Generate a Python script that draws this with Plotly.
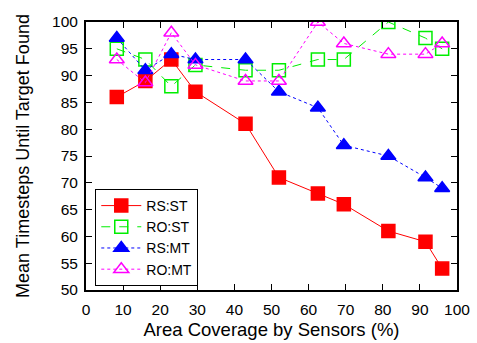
import plotly.graph_objects as go

coverage = [8.3, 16, 23, 29.5, 43, 52, 62.5, 69.5, 81.5, 91.5, 96]
rs_st = [86, 89, 93, 87, 81, 71, 68, 66, 61, 59, 54]
ro_st = [95, 93, 88, 92, 91, 91, 93, 93, 100, 97, 95]
rs_mt = [97, 91, 94, 93, 93, 87, 84, 77, 75, 71, 69]
ro_mt = [93, 88.7, 98, 92, 89, 89, 100, 96, 94, 94, 96]

x_ticks = list(range(0, 101, 10))
y_ticks = list(range(50, 101, 5))

series = [
    ("RS:ST", rs_st, "#ff0000", "solid", "square", "#ff0000", 13),
    ("RO:ST", ro_st, "#00ee00", "dash", "square-open", "#00ee00", 13),
    ("RS:MT", rs_mt, "#0000ff", "dot", "triangle-up", "#0000ff", 13),
    ("RO:MT", ro_mt, "#ff00ff", "dot", "triangle-up-open", "#ff00ff", 13),
]

FONT = "Liberation Sans, Arial, sans-serif"

fig = go.Figure()
for name, ys, col, dash, sym, mcol, msize in series:
    fig.add_trace(go.Scatter(
        x=coverage, y=ys, name=name, mode="lines+markers",
        line=dict(color=col, width=1, dash=dash),
        marker=dict(symbol=sym, size=msize, color=mcol,
                    line=dict(color=mcol, width=1.5)),
    ))

axis_common = dict(
    showgrid=False, zeroline=False, showline=True, linecolor="black",
    linewidth=2, mirror="ticks", ticks="inside", ticklen=6,
    tickcolor="black", tickwidth=1, automargin=False,
    tickfont=dict(family=FONT, size=15.5, color="black"),
)
fig.update_xaxes(range=[0, 100], tickvals=x_ticks, ticklabelstandoff=4,
                 title=dict(text="Area Coverage by Sensors (%)",
                            font=dict(family=FONT, size=18.5, color="black"),
                            standoff=6),
                 **axis_common)
fig.update_yaxes(range=[50, 100], tickvals=y_ticks, ticklabelstandoff=3,
                 title=dict(text="Mean Timesteps Until Target Found",
                            font=dict(family=FONT, size=18, color="black"),
                            standoff=18),
                 **axis_common)

fig.update_layout(
    width=477, height=343,
    margin=dict(l=86, r=20, t=22, b=53),
    plot_bgcolor="white", paper_bgcolor="white",
    legend=dict(x=0.025, y=0.015, xanchor="left", yanchor="bottom",
                bordercolor="black", borderwidth=1, bgcolor="white",
                font=dict(family=FONT, size=14, color="black"),
                tracegroupgap=0, itemwidth=40),
)

fig.write_html("out.html")
